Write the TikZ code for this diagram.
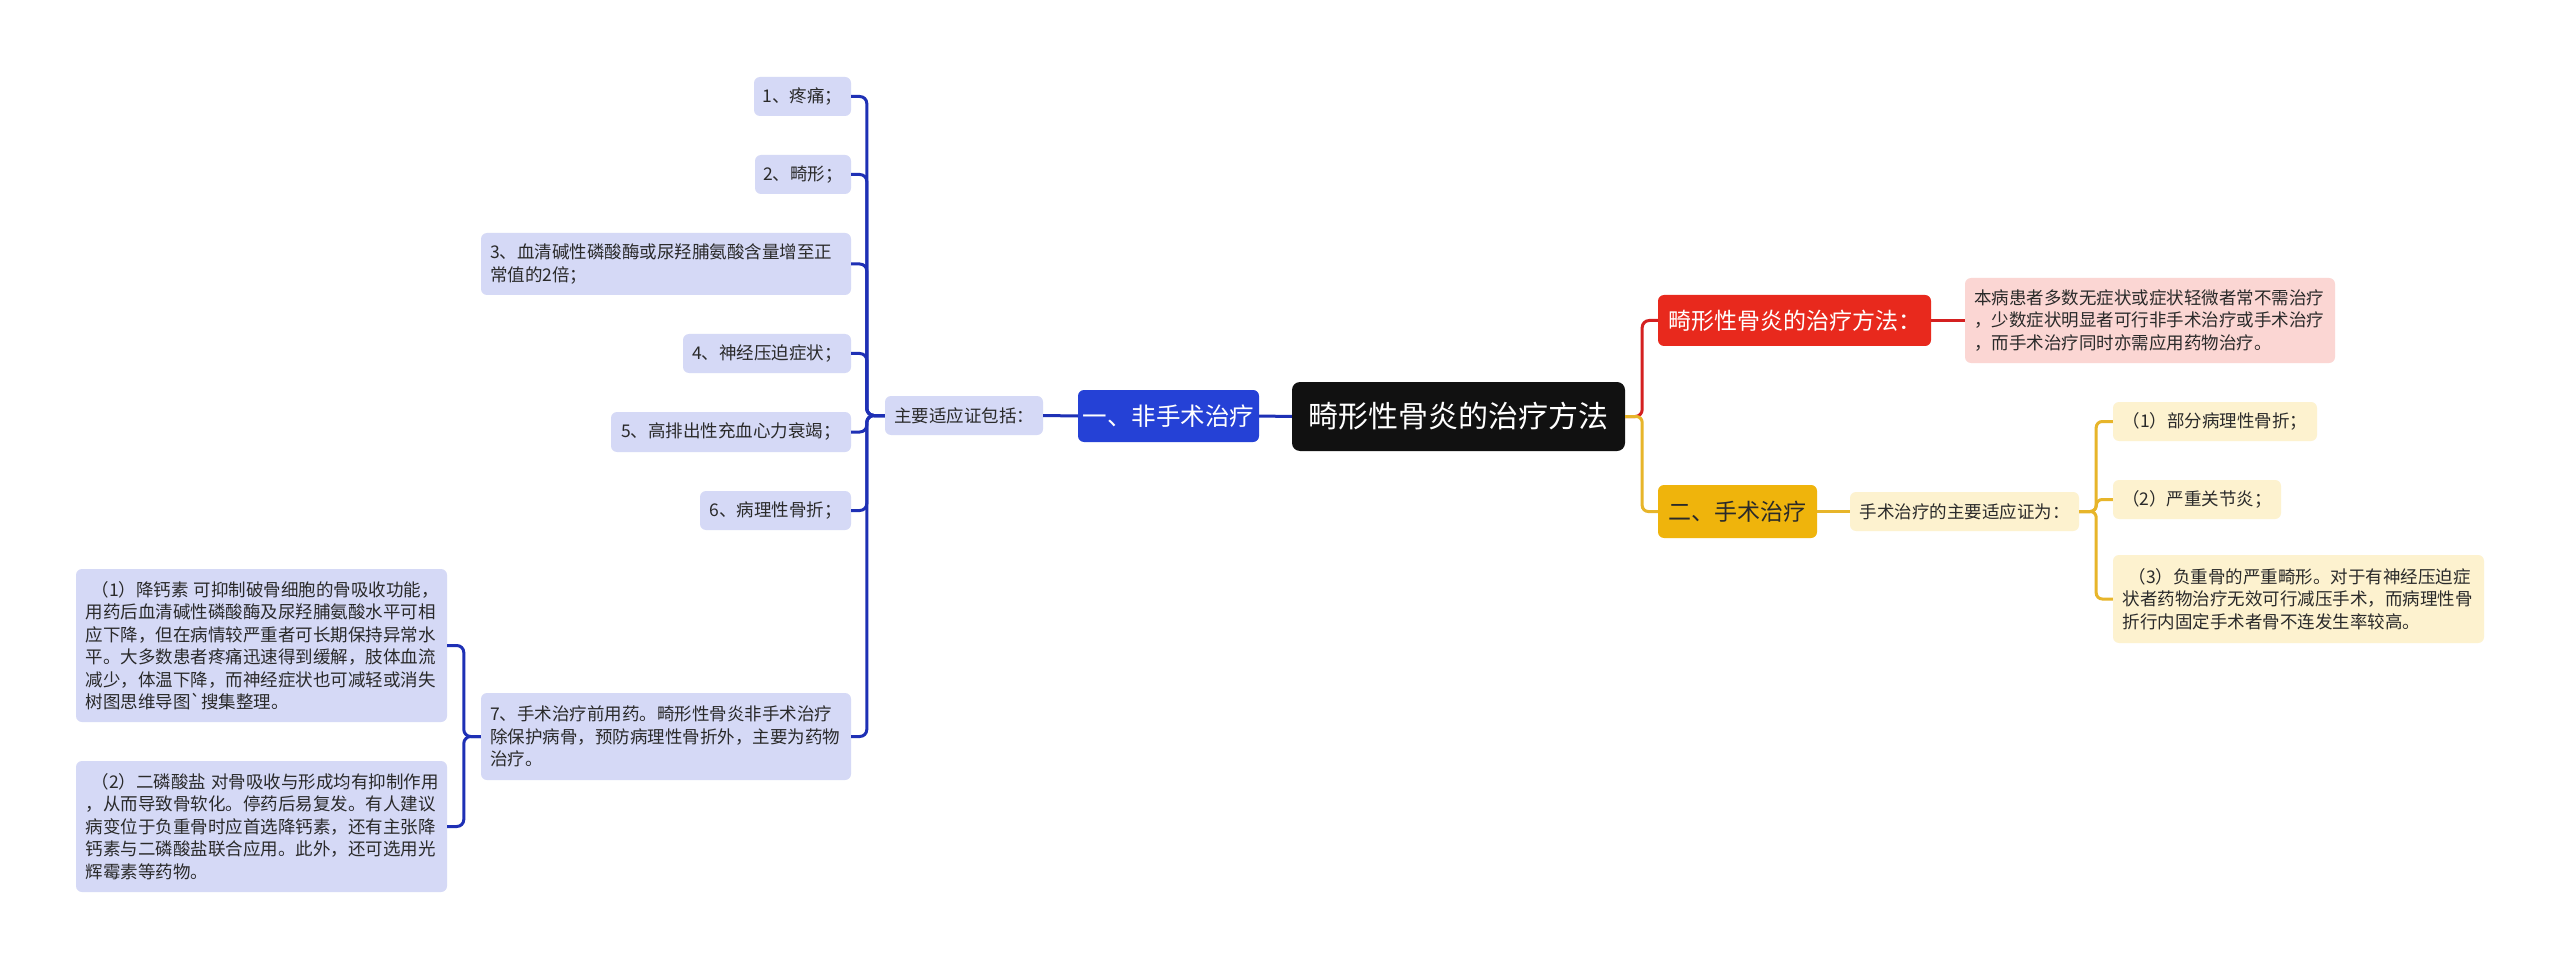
\documentclass[tikz,border=0pt]{standalone}
\usepackage{fontspec}
\setmainfont{Noto Sans CJK SC}
\definecolor{rootfill}{HTML}{111111}
\definecolor{bluefill}{HTML}{2541D6}
\definecolor{blueline}{HTML}{1E30B5}
\definecolor{lav}{HTML}{D5D9F6}
\definecolor{redfill}{HTML}{E8291D}
\definecolor{redline}{HTML}{D42020}
\definecolor{pink}{HTML}{FBD6D3}
\definecolor{yelfill}{HTML}{EFB40C}
\definecolor{yelline}{HTML}{E7B52A}
\definecolor{cream}{HTML}{FDF2CF}
\definecolor{txt}{HTML}{2A2A2A}
\tikzset{
  box/.style={rounded corners=6pt, inner sep=0pt, align=center, text=txt},
  small/.style={font=\fontsize{17.5}{22.5}\selectfont},
  leaf/.style={box, small, fill=lav},
  pinkbox/.style={box, small, fill=pink},
  creambox/.style={box, small, fill=cream},
  multi/.style={align=left, text width=#1},
  rootbox/.style={box, rounded corners=8pt, fill=rootfill, text=white, font=\fontsize{30}{36}\selectfont},
  bluebox/.style={box, fill=bluefill, text=white, font=\fontsize{24.5}{30}\selectfont},
  redbox/.style={box, fill=redfill, text=white, font=\fontsize{23}{28}\selectfont},
  yelbox/.style={box, fill=yelfill, text=txt, font=\fontsize{23}{28}\selectfont},
  bconn/.style={draw=blueline, line width=3pt, rounded corners=7pt},
  rconn/.style={draw=redline, line width=3pt, rounded corners=7pt},
  yconn/.style={draw=yelline, line width=3pt, rounded corners=6pt},
}
\begin{document}
\begin{tikzpicture}[x=1pt,y=-1pt]
\fill[white] (0,0) rectangle (2560,968);
\useasboundingbox (0,0) rectangle (2560,968);

% root and level 1
\node[rootbox, minimum width=333, minimum height=69] (root) at (1458.5,416.5) {畸形性骨炎的治疗方法};
\node[bluebox, minimum width=181, minimum height=52] (blue) at (1168.5,416) {一、非手术治疗};
\node[leaf, minimum width=158, minimum height=39] (ml) at (964,415.5) {主要适应证包括：};
\node[redbox, minimum width=273, minimum height=51] (red) at (1794.5,320.5) {畸形性骨炎的治疗方法：};
\node[yelbox, minimum width=159, minimum height=53] (yel) at (1737.5,511.5) {二、手术治疗};

% right side
\node[pinkbox, multi=352, minimum width=370, minimum height=85] (redc) at (2150,320.5)
  {本病患者多数无症状或症状轻微者常不需治疗\\，少数症状明显者可行非手术治疗或手术治疗\\，而手术治疗同时亦需应用药物治疗。};
\node[creambox, minimum width=229, minimum height=39] (yelm) at (1964.5,511.5) {手术治疗的主要适应证为：};
\node[creambox, minimum width=204, minimum height=39] (y1) at (2215,421.5) {（1）部分病理性骨折；};
\node[creambox, minimum width=168, minimum height=39] (y2) at (2197,499.5) {（2）严重关节炎；};
\node[creambox, multi=352, minimum width=371, minimum height=88] (y3) at (2298.5,599)
  {\hspace*{6pt}（3）负重骨的严重畸形。对于有神经压迫症\\状者药物治疗无效可行减压手术，而病理性骨\\折行内固定手术者骨不连发生率较高。};

% left leaves
\node[leaf, minimum width=97, minimum height=39] (l1) at (802.5,96.5) {1、疼痛；};
\node[leaf, minimum width=96, minimum height=39] (l2) at (803,174.5) {2、畸形；};
\node[leaf, multi=352, minimum width=370, minimum height=62] (l3) at (666,264)
  {3、血清碱性磷酸酶或尿羟脯氨酸含量增至正\\常值的2倍；};
\node[leaf, minimum width=168, minimum height=39] (l4) at (767,353.5) {4、神经压迫症状；};
\node[leaf, minimum width=240, minimum height=40] (l5) at (731,432) {5、高排出性充血心力衰竭；};
\node[leaf, minimum width=151, minimum height=39] (l6) at (775.5,510.5) {6、病理性骨折；};
\node[leaf, multi=352, minimum width=370, minimum height=87] (l7) at (666,736.5)
  {7、手术治疗前用药。畸形性骨炎非手术治疗\\除保护病骨，预防病理性骨折外，主要为药物\\治疗。};
\node[leaf, multi=352, minimum width=371, minimum height=153] (s1) at (261.5,645.5)
  {\mbox{\hspace*{6pt}（1）降钙素\hspace{5pt}可抑制破骨细胞的骨吸收功能，}\\用药后血清碱性磷酸酶及尿羟脯氨酸水平可相\\应下降，但在病情较严重者可长期保持异常水\\平。大多数患者疼痛迅速得到缓解，肢体血流\\减少，体温下降，而神经症状也可减轻或消失\\树图思维导图\textasciigrave 搜集整理。};
\node[leaf, multi=352, minimum width=371, minimum height=131] (s2) at (261.5,826.5)
  {\mbox{\hspace*{6pt}（2）二磷酸盐\hspace{5pt}对骨吸收与形成均有抑制作用}\\，从而导致骨软化。停药后易复发。有人建议\\病变位于负重骨时应首选降钙素，还有主张降\\钙素与二磷酸盐联合应用。此外，还可选用光\\辉霉素等药物。};

% connectors centre
\draw[bconn] (root.west) -- (blue.east);
\draw[bconn] (blue.west) -- (ml.east);
\foreach \c in {l1,l2,l3,l4,l5,l6,l7}
  \draw[bconn] (ml.west) -- ++(-18,0) |- (\c.east);
\foreach \c in {s1,s2}
  \draw[bconn] (l7.west) -- ++(-17,0) |- (\c.east);

\draw[rconn] (root.east) -- ++(17,0) |- (red.west);
\draw[yconn] (root.east) -- ++(17,0) |- (yel.west);
\draw[rconn] (red.east) -- (redc.west);
\draw[yconn] (yel.east) -- (yelm.west);
\foreach \c in {y1,y2,y3}
  \draw[yconn] (yelm.east) -- ++(17,0) |- (\c.west);
\end{tikzpicture}
\end{document}
